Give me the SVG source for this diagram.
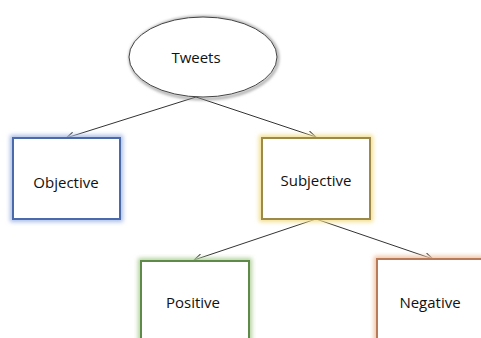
<svg xmlns="http://www.w3.org/2000/svg" width="481" height="338" viewBox="0 0 481 338">
<defs>
<filter id="glow" x="-20%" y="-20%" width="140%" height="140%"><feGaussianBlur stdDeviation="2"/></filter>
<filter id="shadow" x="-20%" y="-20%" width="140%" height="140%"><feGaussianBlur stdDeviation="1.5"/></filter>
<marker id="arr" markerWidth="10" markerHeight="8" refX="9" refY="4" orient="auto" markerUnits="userSpaceOnUse">
<path d="M1,0.5 L9,4 L1,7.5" fill="none" stroke="#333" stroke-width="1"/>
</marker>
<style>
text{font-family:"Open Sans","Liberation Sans",sans-serif;font-size:15px;fill:#111;text-anchor:middle;dominant-baseline:central}
.box{fill:#fff;stroke-width:2}
.edge{stroke:#333;stroke-width:1;fill:none;marker-end:url(#arr)}
</style>
</defs>
<rect width="481" height="338" fill="#fff"/>
<g id="connectors">
<line class="edge" x1="196" y1="97" x2="66" y2="138"/>
<line class="edge" x1="196" y1="97" x2="316" y2="137"/>
<line class="edge" x1="316" y1="219" x2="194" y2="260"/>
<line class="edge" x1="316" y1="219" x2="433" y2="259"/>
</g>
<g id="tweets">
<ellipse cx="204" cy="58" rx="74" ry="41" fill="none" stroke="#888" stroke-width="2" filter="url(#shadow)"/>
<ellipse cx="203" cy="57" rx="74" ry="40" fill="#fff" stroke="#444" stroke-width="1"/>
<text x="196" y="57">Tweets</text>
</g>
<g id="objective">
<rect x="13" y="138" width="107" height="81" fill="none" stroke="#a9bde6" stroke-width="6" filter="url(#glow)"/>
<rect class="box" x="13" y="138" width="107" height="81" stroke="#4a6aab"/>
<text x="66" y="182">Objective</text>
</g>
<g id="subjective">
<rect x="262" y="138" width="108" height="81" fill="none" stroke="#f3df8e" stroke-width="6" filter="url(#glow)"/>
<rect class="box" x="262" y="138" width="108" height="81" stroke="#9e8a48"/>
<text x="316" y="180">Subjective</text>
</g>
<g id="positive">
<rect x="141" y="261" width="108" height="90" fill="none" stroke="#b5d3a0" stroke-width="6" filter="url(#glow)"/>
<rect class="box" x="141" y="261" width="108" height="90" stroke="#5f8a4a"/>
<text x="193" y="302">Positive</text>
</g>
<g id="negative">
<rect x="377" y="259" width="120" height="90" fill="none" stroke="#f2c3a3" stroke-width="6" filter="url(#glow)"/>
<rect class="box" x="377" y="259" width="120" height="90" stroke="#b87a58"/>
<text x="430" y="302">Negative</text>
</g>
</svg>
